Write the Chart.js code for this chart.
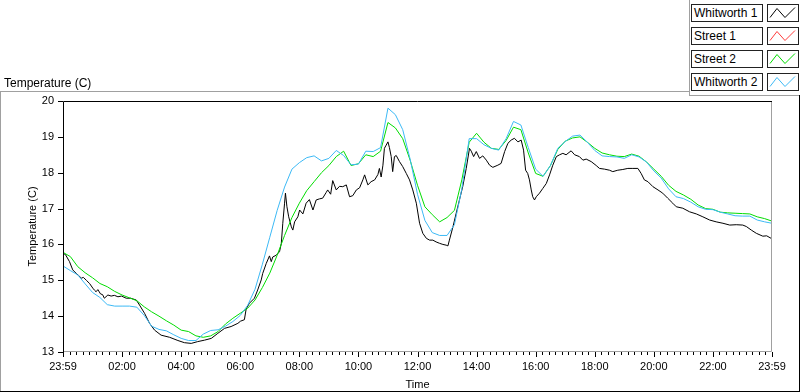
<!DOCTYPE html>
<html lang="en">
<head>
  <meta charset="UTF-8">
  <title>Temperature (C)</title>
  <script src="https://cdn.jsdelivr.net/npm/chart.js"></script>
  <style>
    body { margin: 0; background: #fff; }
    #wrap {
      position: relative;
      width: 800px;
      height: 392px;
      overflow: hidden;
      font-family: "Liberation Sans", Arial, sans-serif;
      color: #000;
    }
    #tempChart { position: absolute; left: 0; top: 0; }
    #graphLabel { position: absolute; left: 4px; top: 76px; font-size: 12px; }
    .line { position: absolute; }
    .grey { background: #a0a0a0; }
    .dark { background: #000; }
    .leg-row { position: absolute; left: 691px; width: 108px; height: 18px; }
    .leg-name {
      position: absolute; left: 0; top: 0;
      width: 72px; height: 18px; box-sizing: border-box;
      border: 1px solid #222; background: #fff;
      font-size: 12px; line-height: 16px; padding-left: 2px; white-space: nowrap;
    }
    .leg-swatch {
      position: absolute; left: 76px; top: 0;
      width: 32px; height: 18px; box-sizing: border-box;
      border: 1px solid #222; background: #fff;
    }
  </style>
</head>
<body>
<div id="wrap">
  <canvas id="tempChart" width="800" height="392"></canvas>
  <div id="graphLabel">Temperature (C)</div>
  <div class="line grey" style="left:0;top:91px;width:689px;height:1px"></div>
  <div class="line grey" style="left:0;top:91px;width:1px;height:301px"></div>
  <div class="line grey" style="left:689px;top:0;width:1px;height:96px"></div>
  <div class="line grey" style="left:689px;top:95px;width:111px;height:1px"></div>
  <div class="line dark" style="left:799px;top:95px;width:1px;height:297px"></div>
  <div class="line dark" style="left:0;top:391px;width:800px;height:1px"></div>
  <div id="legend"></div>
</div>
<script>
  // series names / colours (legend order)
  const seriesNames = ['Whitworth 1', 'Street 1', 'Street 2', 'Whitworth 2'];
  const seriesColors = ['#000000', '#ff3c3c', '#00dc00', '#3cb9f5'];

  // quarter-hour samples (hours after 23:59 of the previous day)
  const hours = [0,0.25,0.5,0.75,1,1.25,1.5,1.75,2,2.25,2.5,2.75,3,3.25,3.5,3.75,4,4.25,4.5,4.75,
    5,5.25,5.5,5.75,6,6.25,6.5,6.75,7,7.25,7.5,7.75,8,8.25,8.5,8.75,9,9.25,9.5,9.75,
    10,10.25,10.5,10.75,11,11.25,11.5,11.75,12,12.25,12.5,12.75,13,13.25,13.5,13.75,14,14.25,14.5,14.75,
    15,15.25,15.5,15.75,16,16.25,16.5,16.75,17,17.25,17.5,17.75,18,18.25,18.5,18.75,19,19.25,19.5,19.75,
    20,20.25,20.5,20.75,21,21.25,21.5,21.75,22,22.25,22.5,22.75,23,23.25,23.5,23.75,24];

  const street2 = [15.78,15.66,15.38,15.21,15.07,14.91,14.82,14.69,14.59,14.51,14.43,14.26,14.12,14.0,13.87,13.75,13.61,13.57,13.45,13.41,
    13.45,13.57,13.78,13.94,14.08,14.22,14.45,14.8,15.2,15.7,16.25,16.75,17.15,17.5,17.75,18.0,18.2,18.45,18.6,18.2,
    18.25,18.5,18.45,18.6,19.4,19.25,18.95,18.35,17.65,17.05,16.83,16.63,16.75,16.95,17.8,18.85,19.1,18.85,18.68,18.65,
    18.9,19.27,19.2,18.55,17.98,17.9,18.2,18.65,18.88,18.97,19.0,18.85,18.68,18.55,18.5,18.46,18.45,18.52,18.46,18.3,
    18.1,17.9,17.65,17.48,17.38,17.26,17.1,17.0,16.98,16.9,16.88,16.87,16.86,16.85,16.77,16.72,16.65];

  const whitworth2 = [15.40,15.27,15.15,14.9,14.66,14.52,14.32,14.28,14.28,14.28,14.25,14.02,13.72,13.63,13.59,13.48,13.38,13.32,13.32,13.5,
    13.6,13.62,13.72,13.85,14.02,14.3,14.75,15.45,16.2,16.95,17.6,18.1,18.28,18.42,18.47,18.33,18.4,18.62,18.48,18.22,
    18.24,18.6,18.59,18.7,19.8,19.62,19.2,18.38,17.4,16.67,16.33,16.25,16.25,16.55,17.55,18.95,18.95,18.78,18.68,18.63,
    18.95,19.43,19.33,18.7,18.1,17.9,18.2,18.68,18.87,19.02,19.05,18.85,18.62,18.47,18.45,18.44,18.4,18.5,18.44,18.3,
    18.05,17.85,17.55,17.33,17.28,17.18,17.05,16.98,16.97,16.9,16.85,16.8,16.79,16.79,16.68,16.63,16.59];

  // Whitworth 1 is noisier, read at irregular times
  const blackHours = [0,0.08,0.22,0.33,0.45,0.52,0.62,0.69,0.79,0.90,
    1.01,1.07,1.12,1.18,1.27,1.34,1.40,1.52,1.63,1.74,
    1.86,1.98,2.14,2.29,2.48,2.59,2.76,2.93,3.10,3.32,
    3.61,3.89,4.11,4.34,4.56,4.79,5.02,5.24,5.47,5.69,
    5.92,6.01,6.14,6.20,6.31,6.48,6.59,6.71,6.76,6.88,
    6.99,7.05,7.10,7.22,7.33,7.39,7.44,7.50,7.53,7.58,
    7.64,7.73,7.78,7.84,7.95,8.01,8.12,8.23,8.34,8.46,
    8.57,8.68,8.79,8.91,8.96,9.06,9.13,9.25,9.36,9.47,
    9.59,9.70,9.81,9.93,10.04,10.15,10.21,10.32,10.43,10.55,
    10.66,10.71,10.77,10.83,10.88,10.94,11.00,11.05,11.11,11.16,
    11.22,11.28,11.39,11.50,11.62,11.73,11.84,11.96,12.07,12.18,
    12.30,12.41,12.52,12.63,12.75,12.86,12.97,13.03,13.08,13.20,
    13.31,13.42,13.53,13.65,13.76,13.82,13.90,13.99,14.10,14.21,
    14.33,14.44,14.55,14.72,14.83,14.95,15.06,15.17,15.28,15.40,
    15.51,15.59,15.66,15.73,15.79,15.85,15.90,15.96,16.02,16.13,
    16.24,16.36,16.47,16.58,16.70,16.81,16.92,17.03,17.20,17.32,
    17.48,17.60,17.71,17.88,18.05,18.16,18.33,18.50,18.61,18.78,
    18.95,19.12,19.29,19.46,19.57,19.68,19.80,19.97,20.14,20.30,
    20.47,20.64,20.76,20.98,21.21,21.44,21.66,21.89,22.11,22.34,
    22.57,22.79,23.01,23.13,23.30,23.47,23.69,23.82,23.97];

  const whitworth1 = [15.75,15.72,15.52,15.29,15.19,15.14,15.06,15.08,15.0,14.91,
    14.78,14.72,14.68,14.74,14.62,14.6,14.50,14.59,14.56,14.58,
    14.54,14.56,14.50,14.5,14.45,14.31,14.08,13.80,13.61,13.47,
    13.41,13.32,13.26,13.24,13.29,13.33,13.38,13.52,13.66,13.71,
    13.80,13.86,13.90,14.20,14.36,14.50,14.73,15.01,15.19,15.47,
    15.68,15.52,15.65,15.70,15.80,16.03,16.59,17.15,17.43,17.05,
    16.77,16.49,16.40,16.63,16.77,16.96,16.85,17.15,17.25,16.96,
    17.24,17.27,17.29,17.45,17.52,17.4,17.78,17.52,17.62,17.61,
    17.66,17.33,17.36,17.52,17.58,17.8,17.94,17.66,17.75,17.80,
    17.95,18.12,17.88,18.21,18.68,18.77,18.86,18.7,18.45,18.03,
    18.45,18.48,18.31,18.17,17.98,17.80,17.52,17.15,16.59,16.31,
    16.17,16.12,16.12,16.07,16.03,16.0,15.98,15.96,16.12,16.49,
    16.87,17.24,17.61,18.12,18.68,18.6,18.45,18.59,18.40,18.47,
    18.35,18.21,18.15,18.21,18.26,18.59,18.82,18.91,18.96,18.86,
    18.91,18.63,18.07,17.98,17.80,17.52,17.33,17.24,17.33,17.43,
    17.56,17.70,17.94,18.21,18.45,18.5,18.54,18.5,18.61,18.5,
    18.45,18.35,18.38,18.31,18.2,18.12,18.1,18.07,18.03,18.07,
    18.09,18.12,18.12,18.12,17.98,17.80,17.75,17.61,17.52,17.43,
    17.29,17.15,17.05,17.01,16.91,16.85,16.77,16.68,16.63,16.59,
    16.54,16.55,16.54,16.50,16.40,16.31,16.23,16.24,16.17];

  // Street 1 has no readings in this window
  const street1 = [];

  function toPoints(xs, ys) {
    return ys.map((v, i) => ({ x: xs[i], y: v }));
  }

  function timeLabel(v) {
    if (v === 0 || v === 24) return '23:59';
    return String(v).padStart(2, '0') + ':00';
  }

  // legend boxes, LabVIEW style
  const legend = document.getElementById('legend');
  seriesNames.forEach((name, i) => {
    const row = document.createElement('div');
    row.className = 'leg-row';
    row.style.top = (4 + i * 23) + 'px';
    row.innerHTML = '<div class="leg-name">' + name + '</div>' +
      '<div class="leg-swatch"><svg width="30" height="16">' +
      '<polyline points="2,12.5 9,3.5 17,12.5 27,2.5" fill="none" stroke="' + seriesColors[i] + '" stroke-width="1"/>' +
      '</svg></div>';
    legend.appendChild(row);
  });

  // plot frame and tick marks
  const framePlugin = {
    id: 'frame',
    afterDraw(chart) {
      const { ctx, chartArea: a, scales: { x, y } } = chart;
      ctx.save();
      ctx.lineWidth = 1;
      ctx.strokeStyle = '#000';
      ctx.beginPath();
      ctx.moveTo(a.left + 0.5, a.bottom);
      ctx.lineTo(a.left + 0.5, a.top + 0.5);
      ctx.lineTo(a.right, a.top + 0.5);
      ctx.stroke();
      ctx.strokeStyle = '#a0a0a0';
      ctx.beginPath();
      ctx.moveTo(a.right - 0.5, a.top + 1);
      ctx.lineTo(a.right - 0.5, a.bottom - 0.5);
      ctx.lineTo(a.left + 1, a.bottom - 0.5);
      ctx.stroke();

      ctx.strokeStyle = '#000';
      ctx.beginPath();
      for (let k = 0; k <= 108; k++) {
        const px = Math.round(x.getPixelForValue(k * 2 / 9)) + 0.5;
        const len = k % 9 === 0 ? 5 : 3;
        ctx.moveTo(px, a.bottom);
        ctx.lineTo(px, a.bottom + len);
      }
      for (let v = 13; v <= 20; v++) {
        const py = Math.round(y.getPixelForValue(v)) + 0.5;
        ctx.moveTo(a.left - 5, py);
        ctx.lineTo(a.left, py);
      }
      ctx.stroke();
      ctx.restore();
    }
  };

  Chart.defaults.font.family = '"Liberation Sans", Arial, sans-serif';
  Chart.defaults.font.size = 11;
  Chart.defaults.color = '#000';

  const datasets = [
    { label: seriesNames[0], data: toPoints(blackHours, whitworth1), borderColor: seriesColors[0], order: 4 },
    { label: seriesNames[1], data: toPoints(hours, street1), borderColor: seriesColors[1], order: 3 },
    { label: seriesNames[2], data: toPoints(hours, street2), borderColor: seriesColors[2], order: 2 },
    { label: seriesNames[3], data: toPoints(hours, whitworth2), borderColor: seriesColors[3], order: 1 }
  ];

  new Chart(document.getElementById('tempChart'), {
    type: 'line',
    data: { datasets: datasets },
    options: {
      responsive: false,
      animation: false,
      layout: { padding: { left: 0, top: 101, right: 28, bottom: 0 } },
      plugins: { legend: { display: false }, tooltip: { enabled: false } },
      elements: {
        point: { radius: 0 },
        line: { borderWidth: 1, tension: 0, fill: false }
      },
      scales: {
        x: {
          type: 'linear',
          min: 0,
          max: 24,
          grid: { display: false, drawTicks: false },
          border: { display: false },
          ticks: { stepSize: 2, autoSkip: false, maxRotation: 0, padding: 8, callback: timeLabel },
          title: { display: true, text: 'Time', padding: { top: 0, bottom: 0 } },
          afterFit: (s) => { s.height = 40; }
        },
        y: {
          min: 13,
          max: 20,
          grid: { display: false, drawTicks: false },
          border: { display: false },
          ticks: { stepSize: 1, padding: 9 },
          title: { display: true, text: 'Temperature (C)', padding: { top: 26, bottom: 0 } },
          afterFit: (s) => { s.width = 63; }
        }
      }
    },
    plugins: [framePlugin]
  });
</script>
</body>
</html>
